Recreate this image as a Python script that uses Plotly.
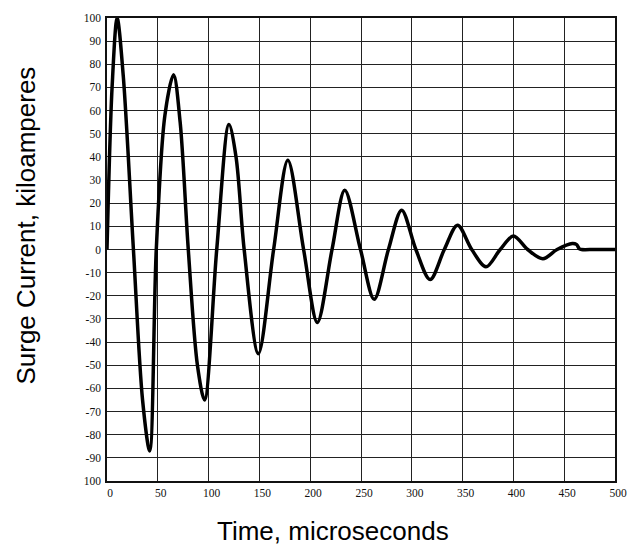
import plotly.graph_objects as go

# Time (microseconds) and surge current (kA)
time_us = [0, 5, 10, 16, 26, 35, 42, 48.5, 57, 65.5, 72, 80, 89, 96, 108, 120, 127,
           135, 149, 164, 178, 193.5, 207, 221.5, 234, 249.5, 263, 277, 290, 304,
           318, 332, 345, 359, 373, 387, 400, 414, 429, 443, 458, 462, 465, 467, 480, 500]
current_ka = [0, 70, 100, 75, 0, -65, -87, 0, 58, 75.5, 55, 0, -50, -65, 0, 54, 40,
              0, -45, 0, 38.5, 0, -31.5, 0, 25.6, 0, -21.5, 0, 17, 0,
              -13, 0, 10.5, 0, -7.5, 0, 5.8, 0, -4, 0, 2.6, 2.2, 0.3, 0, 0, 0]

x_ticks = [0, 50, 100, 150, 200, 250, 300, 350, 400, 450, 500]
x_labels = ["0", "50", "100", "150", "200", "250", "300", "350", "400", "450", "500"]
y_ticks = [100, 90, 80, 70, 60, 50, 40, 30, 20, 10, 0, -10, -20, -30, -40, -50,
           -60, -70, -80, -90, -100]
y_labels = ["100", "90", "80", "70", "60", "50", "40", "30", "20", "10", "0", "-10",
            "-20", "-30", "-40", "-50", "-60", "-70", "-80", "-90", "100"]

fig = go.Figure()
fig.add_trace(go.Scatter(
    x=time_us, y=current_ka, mode="lines",
    line=dict(color="black", width=3.5, shape="spline", smoothing=0.9),
    showlegend=False, hoverinfo="x+y",
))

tick_font = dict(family="Liberation Serif", size=11.5, color="#111")

L, R, T, B = 107, 12, 15, 65
W, H = 639, 546
pw, ph = W - L - R, H - T - B

fig.update_layout(
    width=W, height=H,
    margin=dict(l=L, r=R, t=T, b=B),
    paper_bgcolor="white", plot_bgcolor="white",
    xaxis=dict(
        range=[0, 500], tickvals=x_ticks, ticktext=x_labels,
        showgrid=True, gridcolor="#222", gridwidth=1,
        showline=True, linecolor="#111", linewidth=1.5, mirror=True,
        zeroline=False, ticks="", tickfont=tick_font, ticklabeloverflow="allow",
        ticklabelshift=3,
    ),
    yaxis=dict(
        range=[-100, 100], tickvals=y_ticks, ticktext=y_labels,
        showgrid=True, gridcolor="#222", gridwidth=1,
        showline=True, linecolor="#111", linewidth=1.5, mirror=True,
        zeroline=False, ticks="", tickfont=tick_font, ticklabelstandoff=2,
    ),
    annotations=[
        dict(text="Time, microseconds", xref="paper", yref="paper",
             x=(338 - L) / pw, y=-(531 - (H - B)) / ph, xanchor="center", yanchor="middle",
             showarrow=False, font=dict(family="Liberation Sans", size=26, color="black")),
        dict(text="Surge Current, kiloamperes", xref="paper", yref="paper",
             x=-(L - 24) / pw, y=((H - B) - 224) / ph, xanchor="center", yanchor="middle",
             textangle=-90, showarrow=False,
             font=dict(family="Liberation Sans", size=26, color="black")),
    ],
)

fig.write_html(
    "out.html",
    config={"displayModeBar": False},
    post_script="document.body.style.margin='0';document.body.style.padding='0';"
                "document.documentElement.style.overflow='hidden';",
)
